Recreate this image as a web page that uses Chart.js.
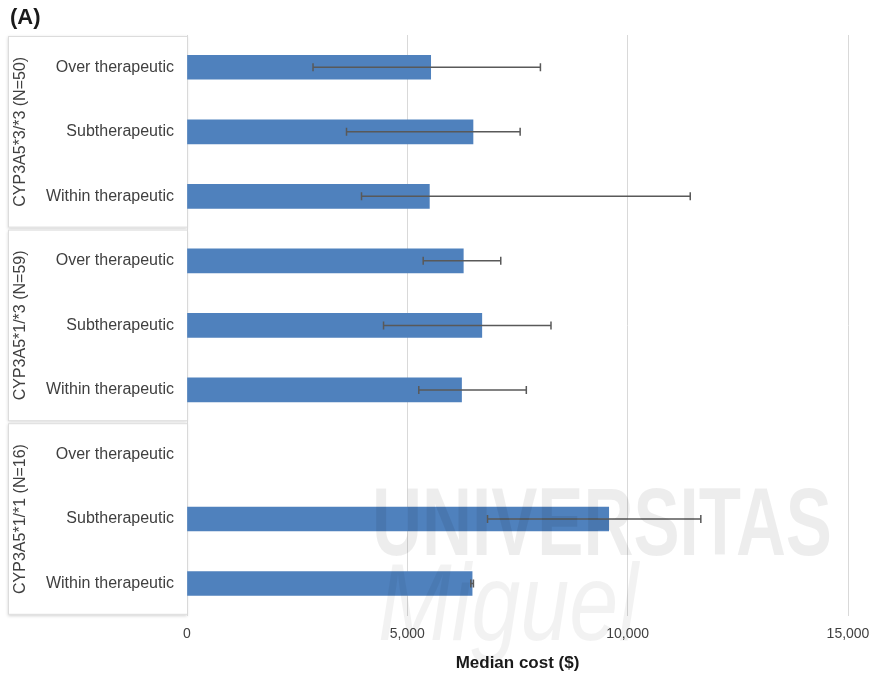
<!DOCTYPE html>
<html>
<head>
<meta charset="utf-8">
<script src="https://cdn.jsdelivr.net/npm/chart.js@4"></script>
<style>
  body { margin: 0; background: #fff; }
  #wrap { width: 874px; height: 675px; position: relative; }
</style>
</head>
<body>
<div id="wrap"><canvas id="myChart"></canvas></div>
<script>
// categories (3 per genotype group)
const categories = ['Over therapeutic', 'Subtherapeutic', 'Within therapeutic',
                    'Over therapeutic', 'Subtherapeutic', 'Within therapeutic',
                    'Over therapeutic', 'Subtherapeutic', 'Within therapeutic'];
const groups = ['CYP3A5*3/*3 (N=50)', 'CYP3A5*1/*3 (N=59)', 'CYP3A5*1/*1 (N=16)'];

// median cost and error-bar ends ($)
const medianCost = [5530, 6490, 5500, 6270, 6690, 6230, null, 9570, 6470];
const errLow     = [2860, 3620, 3960, 5360, 4460, 5260, null, 6820, 6440];
const errHigh    = [8020, 7560, 11420, 7120, 8260, 7700, null, 11660, 6500];

const xTicks = [0, 5000, 10000, 15000];

const FONT = '"Liberation Sans", Arial, sans-serif';

const panelPlugin = {
    id: 'panels',
    beforeDraw(chart) {
        const ctx = chart.ctx;
        const y = chart.scales.y;
        const area = chart.chartArea;
        const h = (y.bottom - y.top) / categories.length;
        ctx.save();
        groups.forEach((g, i) => {
            const top = y.getPixelForValue(i * 3) - h / 2;
            const bottom = y.getPixelForValue(i * 3 + 2) + h / 2;
            ctx.fillStyle = '#fff';
            ctx.shadowColor = 'rgba(0,0,0,0.18)';
            ctx.shadowBlur = 3;
            ctx.shadowOffsetY = 1;
            ctx.fillRect(8, top + 1, area.left - 8, bottom - top - 2);
            ctx.shadowColor = 'transparent';
            ctx.strokeStyle = '#dcdcdc';
            ctx.lineWidth = 1;
            ctx.strokeRect(8.5, top + 1.5, area.left - 8, bottom - top - 3);
            // group label
            ctx.save();
            ctx.translate(21, (top + bottom) / 2);
            ctx.rotate(-Math.PI / 2);
            ctx.fillStyle = '#404040';
            ctx.font = '16px ' + FONT;
            ctx.textAlign = 'center';
            ctx.textBaseline = 'middle';
            ctx.fillText(g, 0, 0);
            ctx.restore();
        });
        // title "(A)"
        ctx.fillStyle = '#1a1a1a';
        ctx.font = 'bold 22px ' + FONT;
        ctx.textAlign = 'left';
        ctx.textBaseline = 'middle';
        ctx.fillText('(A)', 10, 18);
        ctx.restore();
    }
};

const errorBarPlugin = {
    id: 'errorBars',
    afterDatasetsDraw(chart) {
        const ctx = chart.ctx;
        const xs = chart.scales.x, ys = chart.scales.y;
        ctx.save();
        ctx.strokeStyle = '#595959';
        ctx.lineWidth = 1.5;
        categories.forEach((c, i) => {
            if (errLow[i] == null) return;
            const yy = ys.getPixelForValue(i);
            const x1 = xs.getPixelForValue(errLow[i]);
            const x2 = xs.getPixelForValue(errHigh[i]);
            ctx.beginPath();
            ctx.moveTo(x1, yy); ctx.lineTo(x2, yy);
            ctx.moveTo(x1, yy - 4); ctx.lineTo(x1, yy + 4);
            ctx.moveTo(x2, yy - 4); ctx.lineTo(x2, yy + 4);
            ctx.stroke();
        });
        ctx.restore();
    },
    afterDraw(chart) {
        // faint watermark
        const ctx = chart.ctx;
        ctx.save();
        ctx.fillStyle = 'rgba(0,0,0,0.07)';
        ctx.textBaseline = 'alphabetic';
        ctx.font = 'bold 96px ' + FONT;
        let w = ctx.measureText('UNIVERSITAS').width;
        ctx.translate(372, 555);
        ctx.scale(460 / w, 1);
        ctx.fillText('UNIVERSITAS', 0, 0);
        ctx.restore();
        ctx.save();
        ctx.fillStyle = 'rgba(0,0,0,0.05)';
        ctx.font = 'italic 110px ' + FONT;
        w = ctx.measureText('Miguel').width;
        ctx.translate(378, 640);
        ctx.scale(260 / w, 1);
        ctx.fillText('Miguel', 0, 0);
        ctx.restore();
    }
};

const ctx = document.getElementById('myChart').getContext('2d');
new Chart(ctx, {
    type: 'bar',
    data: {
        labels: categories,
        datasets: [{
            label: 'Median cost ($)',
            data: medianCost,
            backgroundColor: '#4f81bd',
            borderWidth: 0,
            barThickness: 24
        }]
    },
    options: {
        indexAxis: 'y',
        responsive: true,
        maintainAspectRatio: false,
        animation: false,
        layout: { padding: { left: 8, top: 35, right: 26, bottom: 0 } },
        plugins: {
            legend: { display: false },
            tooltip: { enabled: false }
        },
        scales: {
            x: {
                min: 0,
                max: 15000,
                afterBuildTicks: s => { s.ticks = xTicks.map(v => ({ value: v })); },
                afterFit: s => { s.paddingLeft = 0; s.paddingRight = 0; },
                ticks: {
                    color: '#404040',
                    font: { family: FONT, size: 14 },
                    padding: 10,
                    callback: value => value.toLocaleString('en-US')
                },
                grid: { color: '#d9d9d9', drawTicks: false },
                border: { display: false },
                title: {
                    display: true,
                    text: 'Median cost ($)',
                    color: '#1a1a1a',
                    font: { family: FONT, size: 17, weight: 'bold' },
                    padding: { top: 1, bottom: 1 }
                }
            },
            y: {
                grid: { display: false },
                border: { display: false },
                afterFit: s => { s.width = 179; },
                ticks: {
                    color: '#404040',
                    font: { family: FONT, size: 16 },
                    padding: 5,
                    autoSkip: false
                }
            }
        }
    },
    plugins: [panelPlugin, errorBarPlugin]
});
</script>
</body>
</html>
